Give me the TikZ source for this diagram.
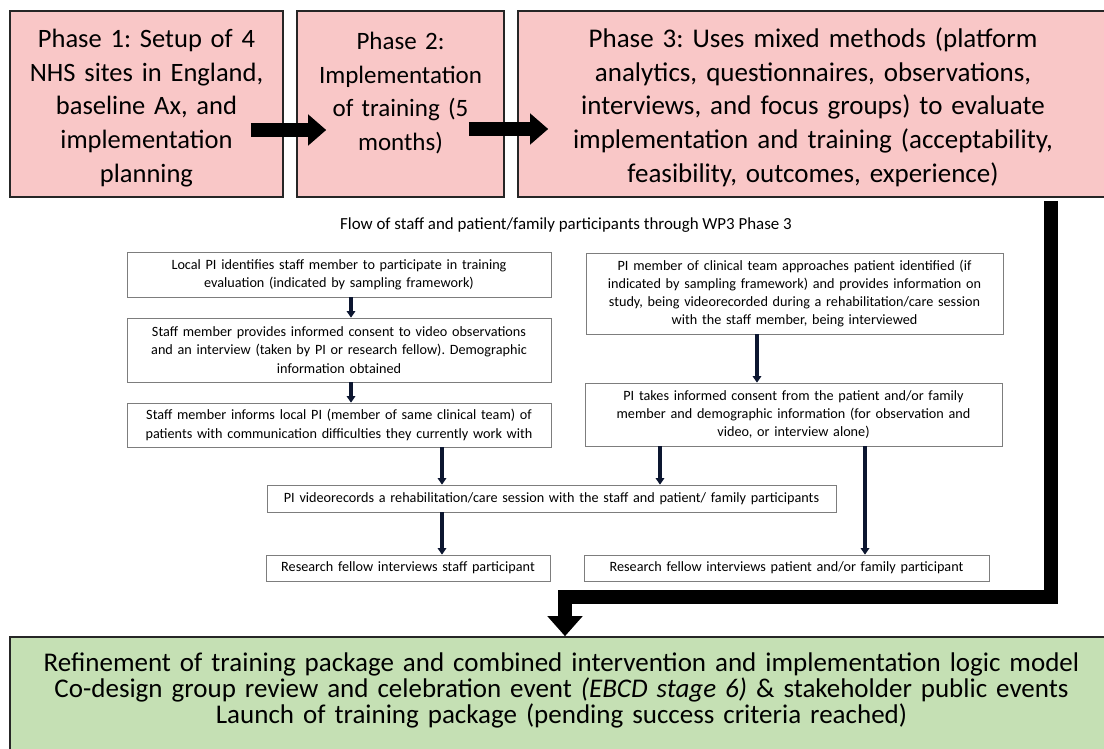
\documentclass[tikz,border=0pt]{standalone}
\usepackage{fontspec}
\setmainfont{Carlito}
\usetikzlibrary{arrows.meta,calc}
\definecolor{phasepink}{RGB}{249,199,199}
\definecolor{finalgreen}{RGB}{197,224,180}
\definecolor{stepline}{RGB}{125,125,125}
\definecolor{navyline}{RGB}{12,22,48}
\frenchspacing
\lineskiplimit=-100pt

\begin{document}
\begin{tikzpicture}[x=1pt,y=-1pt,
  phase/.style={draw=black!85, line width=1.6pt, fill=phasepink, align=center,
    inner sep=0pt, font=\fontsize{26.5}{33.7}\selectfont},
  finalbox/.style={draw=black!85, line width=1.6pt, fill=finalgreen, align=center,
    inner sep=0pt, font=\fontsize{27}{25.8}\selectfont},
  stepbox/.style={draw=stepline, line width=0.7pt, fill=white, align=center,
    inner sep=0pt, font=\fontsize{14.2}{18.3}\selectfont},
  blockarrow/.style={line width=14pt, -{Triangle[length=18pt,width=30pt]}},
  bigarrow/.style={line width=14pt, -{Triangle[length=20pt,width=34pt]}},
  flowarrow/.style={draw=navyline, line width=3.2pt, -{Triangle[length=6.5pt,width=8.5pt]}},
]
\useasboundingbox (0,0) rectangle (1104,749);

% three project phases
\node[phase, minimum width=273pt, minimum height=186pt, text width=262pt] (p1) at (146.5,104)
  {\rule{0pt}{26pt}Phase 1: Setup of 4\\NHS sites in England,\\baseline Ax, and\\implementation\\planning};
\node[phase, minimum width=207pt, minimum height=186pt, text width=197pt,
  font=\fontsize{25}{33.7}\selectfont] (p2) at (400.5,104)
  {\rule{0pt}{26pt}Phase 2:\\Implementation\\of training (5\\months)\\\mbox{}};
\node[phase, minimum width=590pt, minimum height=186pt, text width=575pt,
  font=\fontsize{27}{33.7}\selectfont] (p3) at (813,104)
  {\rule{0pt}{26pt}Phase 3: Uses mixed methods (platform\\analytics, questionnaires, observations,\\interviews, and focus groups) to evaluate\\implementation and training (acceptability,\\feasibility, outcomes, experience)};

\draw[blockarrow] ($(p1.east)+(-33,26)$) -- ($(p2.west)+(30,26)$);
\draw[blockarrow] ($(p2.east)+(-36,25)$) -- ($(p3.west)+(31,25)$);

% participant flow
\node[font=\fontsize{16.9}{19}\selectfont] (cap) at (566,225)
  {Flow of staff and patient/family participants through WP3 Phase 3};

\node[stepbox, minimum width=424pt, minimum height=45pt, text width=414pt] (L1) at (339,274.5)
  {Local PI identifies staff member to participate in training\\evaluation (indicated by sampling framework)};
\node[stepbox, minimum width=424pt, minimum height=64pt, text width=414pt] (L2) at (339,350)
  {Staff member provides informed consent to video observations\\and an interview (taken by PI or research fellow). Demographic\\information obtained};
\node[stepbox, minimum width=424pt, minimum height=44pt, text width=414pt] (L3) at (339,425)
  {Staff member informs local PI (member of same clinical team) of\\patients with communication difficulties they currently work with};

\node[stepbox, minimum width=417pt, minimum height=81pt, text width=412pt] (R1) at (794.5,293.5)
  {PI member of clinical team approaches patient identified (if\\indicated by sampling framework) and provides information on\\study, being videorecorded during a rehabilitation/care session\\with the staff member, being interviewed};
\node[stepbox, minimum width=417pt, minimum height=63pt, text width=412pt] (R2) at (793.5,414.5)
  {PI takes informed consent from the patient and/or family\\member and demographic information (for observation and\\video, or interview alone)};

\node[stepbox, minimum width=569pt, minimum height=27pt, text width=564pt] (M) at (551.5,498.5)
  {PI videorecords a rehabilitation/care session with the staff and patient/ family participants};
\node[stepbox, minimum width=284pt, minimum height=26pt, text width=278pt] (S1) at (408,568)
  {Research fellow interviews staff participant};
\node[stepbox, minimum width=405pt, minimum height=26pt, text width=398pt] (S2) at (786.5,568)
  {Research fellow interviews patient and/or family participant};

\coordinate (aL1) at ([xshift=12pt]L1.south);
\coordinate (aL2) at ([xshift=12pt]L2.south);
\coordinate (aL3) at ([xshift=103pt]L3.south);
\coordinate (aR1) at ([xshift=-37.5pt]R1.south);
\coordinate (aR2a) at ([xshift=-133.5pt]R2.south);
\coordinate (aR2b) at ([xshift=71.5pt]R2.south);
\coordinate (aM) at ([xshift=-109.5pt]M.south);

\draw[flowarrow] (aL1) -- (aL1 |- L2.north);
\draw[flowarrow] (aL2) -- (aL2 |- L3.north);
\draw[flowarrow] (aL3) -- (aL3 |- M.north);
\draw[flowarrow] (aR1) -- (aR1 |- R2.north);
\draw[flowarrow] (aR2a) -- (aR2a |- M.north);
\draw[flowarrow] (aR2b) -- (aR2b |- S2.north);
\draw[flowarrow] (aM) -- (aM |- S1.north);

% final stage
\node[finalbox, minimum width=1103pt, minimum height=128pt, text width=1090pt] (fin) at (561.5,701)
  {Refinement of training package and combined intervention and implementation logic model\\
   Co-design group review and celebration event \textit{(EBCD stage 6)} \& stakeholder public events\\
   Launch of training package (pending success criteria reached)\\\mbox{}};

\coordinate (bend) at (565,597);
\draw[bigarrow] ([xshift=-58pt,yshift=-3pt]p3.south east) |- (bend) -- (bend |- fin.north);
\end{tikzpicture}
\end{document}
